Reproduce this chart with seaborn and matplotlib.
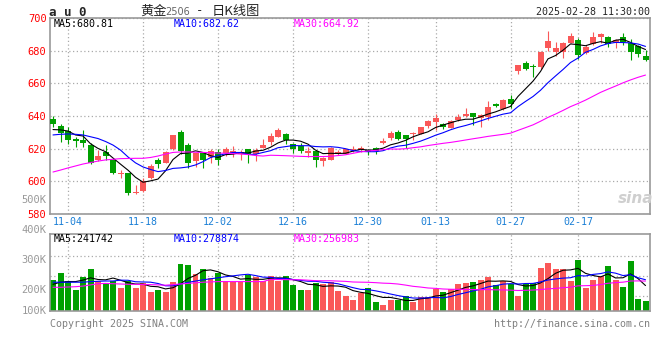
import numpy as np
import pandas as pd
import matplotlib
matplotlib.use('Agg')
import matplotlib.pyplot as plt
import seaborn as sns

# ---------------------------------------------
# DATA  (au0 daily K, 2024-10-31 .. 2025-02-28)
# ---------------------------------------------
open_ = [638.2, 634.1, 630.8, 625.7, 625.3, 622.2, 613.1, 618.0, 613.1, 604.3,
         605.1, 592.7, 594.1, 601.8, 613.1, 611.4, 619.8, 630.0, 622.2, 612.6,
         617.2, 615.1, 618.2, 617.2, 616.5, 616.5, 619.8, 617.0, 620.6, 623.9,
         627.3, 629.0, 622.9, 621.6, 617.5, 618.6, 612.6, 613.1, 616.7, 616.5,
         619.0, 619.2, 619.2, 620.6, 623.3, 626.7, 630.0, 628.4, 628.8, 629.0,
         634.1, 636.1, 635.1, 632.8, 637.6, 640.2, 641.6, 638.6, 639.6, 647.3,
         644.1, 650.2, 667.5, 672.6, 670.8, 670.2, 681.8, 679.4, 679.4, 684.9,
         686.5, 678.4, 684.1, 688.6, 688.2, 684.9, 688.4, 684.7, 682.9, 676.7]
high_ = [640.0, 635.1, 633.1, 627.3, 631.4, 623.3, 619.2, 622.2, 614.1, 606.9,
         605.3, 597.8, 601.8, 610.6, 614.1, 618.5, 628.6, 631.4, 623.7, 617.3,
         618.2, 619.6, 619.6, 620.8, 621.6, 619.2, 619.8, 620.6, 625.7, 629.8,
         632.5, 629.8, 623.7, 623.3, 620.8, 619.2, 615.1, 620.8, 619.0, 619.6,
         621.6, 621.6, 619.6, 621.2, 626.3, 631.0, 631.4, 628.4, 630.4, 633.5,
         637.6, 641.2, 635.5, 637.6, 641.2, 644.7, 641.6, 641.2, 649.2, 648.1,
         650.4, 652.8, 671.2, 673.7, 671.6, 680.0, 692.0, 685.1, 685.5, 690.6,
         687.6, 683.5, 691.2, 691.0, 689.0, 687.1, 690.6, 687.0, 683.5, 680.4]
low_ = [633.4, 624.3, 622.7, 621.2, 621.2, 610.6, 612.6, 613.1, 604.5, 601.8,
        591.6, 592.2, 593.7, 601.5, 608.3, 611.0, 619.2, 616.5, 608.3, 609.0,
        608.3, 611.4, 610.0, 615.5, 615.1, 613.1, 611.0, 612.6, 620.2, 622.2,
        627.0, 622.7, 617.2, 617.2, 615.1, 609.0, 609.4, 613.0, 616.0, 616.5,
        618.0, 618.0, 616.1, 616.6, 622.7, 625.3, 625.3, 620.2, 625.3, 628.8,
        632.5, 631.4, 632.0, 632.5, 637.1, 639.6, 634.5, 633.4, 637.6, 645.3,
        643.7, 644.7, 665.7, 668.2, 664.1, 668.8, 680.0, 676.7, 675.3, 684.5,
        674.7, 677.8, 683.5, 684.5, 682.4, 681.8, 683.5, 674.3, 676.0, 673.7]
close_ = [635.1, 629.8, 625.5, 624.7, 623.7, 611.4, 615.5, 615.5, 605.3, 604.9,
          593.0, 593.7, 600.4, 609.4, 610.4, 618.2, 628.4, 618.6, 611.0, 617.2,
          613.1, 618.6, 613.1, 619.8, 618.6, 618.2, 616.7, 619.4, 622.2, 627.8,
          631.4, 625.3, 619.6, 618.8, 618.8, 613.1, 614.5, 620.6, 618.2, 619.6,
          619.6, 620.2, 618.0, 618.8, 624.9, 629.8, 625.9, 625.9, 629.8, 633.1,
          636.9, 639.0, 633.4, 636.9, 639.6, 641.2, 639.2, 640.6, 645.3, 646.3,
          649.8, 647.3, 671.2, 668.6, 669.8, 679.4, 685.9, 681.4, 684.9, 689.0,
          677.3, 682.5, 688.6, 690.2, 684.1, 686.5, 685.3, 679.2, 678.0, 674.5]
# volume in thousands of lots
vol_k = [233, 258, 230, 200, 244, 271, 230, 224, 230, 208,
         230, 208, 222, 194, 200, 194, 228, 287, 283, 253,
         271, 241, 256, 230, 228, 226, 250, 244, 230, 247,
         231, 247, 217, 200, 200, 224, 219, 226, 197, 181,
         167, 191, 208, 160, 150, 167, 167, 181, 161, 178,
         178, 202, 194, 203, 220, 224, 228, 233, 244, 217,
         230, 219, 181, 220, 224, 274, 291, 269, 271, 230,
         300, 208, 233, 247, 280, 233, 211, 297, 170, 163]

# moving averages before the window is full
ma5_head = [631.7, 631.5, 630.8, 628.4]
ma10_head = [628.4, 628.8, 629.0, 628.8, 628.4, 627.3, 626.2, 624.4, 622.2]
ma30_head = [605.7, 606.9, 608.2, 609.4, 610.6, 611.5, 612.4, 613.1, 613.5, 613.9,
             614.0, 614.1, 614.1, 614.6, 615.5, 616.7, 617.7, 618.0, 618.0, 617.8,
             617.7, 617.5, 617.3, 617.2, 617.0, 616.7, 616.4, 615.8, 615.5]
vma5_head = [219, 226, 228, 228]
vma10_head = [226, 226, 226, 226, 226, 228, 229, 230, 230]
vma30_head = [209, 209, 210, 211, 213, 217, 221, 222, 221, 220,
              219, 219, 218, 218, 217, 216, 218, 220, 222, 224,
              226, 227, 228, 228, 228, 228, 228, 228, 228]

price_ma_text = ['MA5:680.81', 'MA10:682.62', 'MA30:664.92']
vol_ma_text = ['MA5:241742', 'MA10:278874', 'MA30:256983']
tick_dates = ['11-04', '11-18', '12-02', '12-16', '12-30', '01-13', '01-27', '02-17']
price_ticks = [580, 600, 620, 640, 660, 680, 700]
vol_ticks = [100, 200, 300, 400, 500]
holidays = ['2025-01-01', '2025-01-28', '2025-01-29', '2025-01-30',
            '2025-01-31', '2025-02-03', '2025-02-04']

# ---------------------------------------------
# PREP
# ---------------------------------------------
dates = pd.bdate_range('2024-10-31', '2025-02-28')
dates = dates[~dates.isin(pd.to_datetime(holidays))]
date_lbl = list(dates.strftime('%m-%d'))

o = np.array(open_); h = np.array(high_); l = np.array(low_); c = np.array(close_)
v = np.array(vol_k, dtype=float)
x = np.arange(len(c))
up = c >= o

def moving_avg(values, n, head):
    s = pd.Series(values).rolling(n).mean()
    s.iloc[:len(head)] = head
    return s.values

ma5 = moving_avg(c, 5, ma5_head)
ma10 = moving_avg(c, 10, ma10_head)
ma30 = moving_avg(c, 30, ma30_head)
vma5 = moving_avg(v, 5, vma5_head)
vma10 = moving_avg(v, 10, vma10_head)
vma30 = moving_avg(v, 30, vma30_head)

RED = '#fa5858'
GREEN = '#00a000'
GRID = '#aaaaaa'
FRAME = '#999999'
MA_COLORS = ['black', '#0000ff', '#ff00ff']

sns.set_style('white')
plt.rcParams['font.family'] = ['DejaVu Sans Mono', 'Noto Sans CJK SC']

fig = plt.figure(figsize=(6.6, 3.6), dpi=100)
ax = fig.add_axes([50/660, 146/360, 600/660, 196/360])
axv = fig.add_axes([50/660, 49/360, 600/660, 77/360])

# ---------------------------------------------
# CANDLES
# ---------------------------------------------
col = np.where(up, RED, GREEN)
ax.vlines(x, l, h, colors=col, lw=0.8, zorder=2)
ax.bar(x, np.maximum(np.abs(c - o), 0.4), bottom=np.minimum(o, c),
       width=0.8, color=col, lw=0, zorder=3)
for ma, mc in zip([ma5, ma10, ma30], MA_COLORS):
    sns.lineplot(x=x, y=ma, color=mc, lw=0.8, ax=ax, zorder=4)

tick_idx = [date_lbl.index(d) for d in tick_dates]
ax.set_xlim(-0.4, len(x) - 0.4)
ax.set_ylim(price_ticks[0], price_ticks[-1])
ax.set_yticks(price_ticks, [str(t) for t in price_ticks])
ax.set_xticks(tick_idx, tick_dates)
ax.grid(True, color=GRID, ls=(0, (1, 2)), lw=0.9)
ax.tick_params(axis='x', colors='#1a7fd6', length=0, pad=2, labelsize=7.2)
ax.tick_params(axis='y', colors='red', length=0, pad=2.5, labelsize=7.5)
for s in ax.spines.values():
    s.set_color(FRAME); s.set_linewidth(1.2)

# ---------------------------------------------
# VOLUME
# ---------------------------------------------
dfv = pd.DataFrame({'x': x, 'vol': v, 'dir': np.where(up, 'up', 'down')})
sns.barplot(data=dfv, x='x', y='vol', hue='dir', palette={'up': RED, 'down': GREEN},
            native_scale=True, dodge=False, saturation=1, width=0.8,
            errorbar=None, legend=False, lw=0, ax=axv)
for ma, mc in zip([vma5, vma10, vma30], MA_COLORS):
    sns.lineplot(x=x, y=ma, color=mc, lw=0.8, ax=axv, zorder=4)

vol_lo, vol_hi = 130, 386.7
axv.set_xlim(-0.4, len(x) - 0.4)
axv.set_ylim(vol_lo, vol_hi)
axv.set_xticks(tick_idx, [''] * len(tick_idx))
axv.set_yticks([314, 248, 181], ['', '', ''])
axv.set_xlabel(''); axv.set_ylabel('')
axv.grid(True, color=GRID, ls=(0, (1, 2)), lw=0.9)
axv.tick_params(length=0)
for s in axv.spines.values():
    s.set_color(FRAME); s.set_linewidth(1.2)
for t in vol_ticks:
    axv.text(-0.006, max(t, vol_lo), f'{t}K', transform=axv.get_yaxis_transform(),
             ha='right', va='center', color=FRAME, fontsize=7.5, clip_on=False)

# ---------------------------------------------
# TEXTS
# ---------------------------------------------
def fy(py):
    return 1 - py / 360

fig.text(49/660, fy(12), 'a u 0', fontsize=9, weight='bold', va='center')
fig.text(140/660, fy(11), '黄金', family=['Noto Sans CJK SC'], fontsize=9.5, va='center')
fig.text(165/660, fy(12), '2506', family='DejaVu Sans', color='#666666', fontsize=7, va='center')
fig.text(200/660, fy(11), '-', fontsize=9, va='center', ha='center')
fig.text(212/660, fy(11), '日K线图', family=['Noto Sans CJK SC'], fontsize=9.5, va='center')
fig.text(650/660, fy(12), '2025-02-28 11:30:00', fontsize=7.2, ha='right', va='center')

for txt, px, mc in zip(price_ma_text, [54, 174, 294], MA_COLORS):
    fig.text(px/660, fy(24), txt, color=mc, fontsize=7.2, va='center')
for txt, px, mc in zip(vol_ma_text, [54, 174, 294], MA_COLORS):
    fig.text(px/660, fy(239), txt, color=mc, fontsize=7.2, va='center')

fig.text(50/660, fy(324), 'Copyright 2025 SINA.COM', color='#808080', fontsize=7.2, va='center')
fig.text(650/660, fy(324), 'http://finance.sina.com.cn', color='#808080', fontsize=7.2,
         va='center', ha='right')
fig.text(618/660, fy(198), 'sina', family='DejaVu Sans', style='italic', weight='bold',
         color='#cfcfcf', fontsize=11, va='center')

fig.savefig('out.png', dpi=100, facecolor='white')
plt.close(fig)
